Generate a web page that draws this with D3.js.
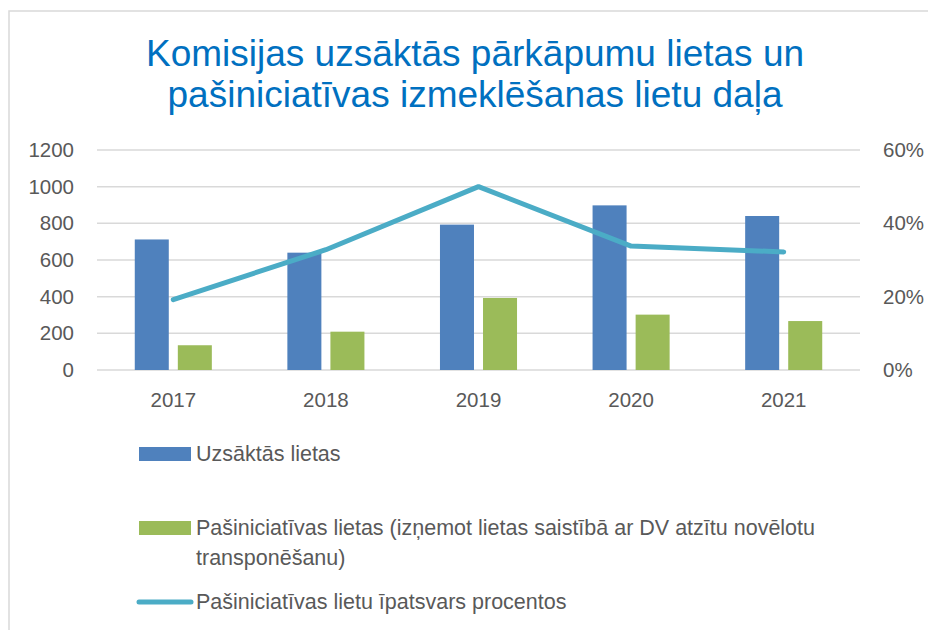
<!DOCTYPE html>
<html>
<head>
<meta charset="utf-8">
<script src="https://cdnjs.cloudflare.com/ajax/libs/d3/7.8.5/d3.min.js"></script>
<style>
  body { margin: 0; background: #fff; }
  text { font-family: "Liberation Sans", Arial, sans-serif; }
</style>
</head>
<body>
<svg id="chart" width="928" height="630"></svg>
<script>
var years = ["2017", "2018", "2019", "2020", "2021"];
var started = [712, 640, 793, 898, 840];
var ownInitiative = [135, 209, 393, 302, 267];
var sharePct = [19.2, 32.8, 50.0, 33.8, 32.2];
var leftTicks = [0, 200, 400, 600, 800, 1000, 1200];
var rightTicks = [0, 20, 40, 60];
var titleLines = ["Komisijas uzsāktās pārkāpumu lietas un", "pašiniciatīvas izmeklēšanas lietu daļa"];

var blue = "#4f81bd", green = "#9bbb59", teal = "#4bacc6", grey = "#595959";

var svg = d3.select("#chart");
var margin = {top: 150, left: 97, right: 68, bottom: 260};
var width = 928 - margin.left - margin.right,
    height = 630 - margin.top - margin.bottom;

// outer frame (only top and left edge visible)
svg.append("rect")
    .attr("x", 9).attr("y", 11)
    .attr("width", 940).attr("height", 640)
    .attr("fill", "none").attr("stroke", "#d9d9d9").attr("stroke-width", 1.5);

// title
svg.append("text")
    .attr("x", 475).attr("y", 66)
    .attr("text-anchor", "middle")
    .attr("fill", "#0070c0")
    .style("font-size", "37px")
    .selectAll("tspan")
    .data(titleLines)
    .enter().append("tspan")
    .attr("x", 475)
    .attr("dy", function(d, i) { return i == 0 ? 0 : 41; })
    .text(function(d) { return d; });

var g = svg.append("g").attr("transform", "translate(" + margin.left + "," + margin.top + ")");

var x0 = d3.scaleBand().domain(years).range([0, width]).paddingInner(0.495).paddingOuter(0.2475);
var x1 = d3.scaleBand().domain(["a", "b"]).range([0, x0.bandwidth()]).paddingInner(0.21);
var y = d3.scaleLinear().domain([0, 1200]).range([height, 0]);
var y2 = d3.scaleLinear().domain([0, 60]).range([height, 0]);

// gridlines
g.selectAll(".grid")
    .data(leftTicks)
    .enter().append("line")
    .attr("x1", 0).attr("x2", width)
    .attr("y1", function(d) { return y(d); })
    .attr("y2", function(d) { return y(d); })
    .attr("stroke", "#d9d9d9").attr("stroke-width", 1.5);

// left axis
var yAxis = g.append("g").call(d3.axisLeft(y).tickValues(leftTicks).tickFormat(d3.format("d")).tickSize(0).tickPadding(23));
yAxis.select(".domain").remove();
yAxis.selectAll("text").attr("fill", grey).style("font-size", "20.5px").style("font-family", "Liberation Sans, Arial, sans-serif");

// right axis
var y2Axis = g.append("g").attr("transform", "translate(" + width + ",0)")
    .call(d3.axisRight(y2).tickValues(rightTicks).tickFormat(function(d) { return d + "%"; }).tickSize(0).tickPadding(23));
y2Axis.select(".domain").remove();
y2Axis.selectAll("text").attr("fill", grey).style("font-size", "20.5px").style("font-family", "Liberation Sans, Arial, sans-serif");

// x axis
var xAxis = g.append("g").attr("transform", "translate(0," + height + ")")
    .call(d3.axisBottom(x0).tickSize(0).tickPadding(22));
xAxis.select(".domain").remove();
xAxis.selectAll("text").attr("fill", grey).style("font-size", "20.5px").style("font-family", "Liberation Sans, Arial, sans-serif");

// bars
g.selectAll(".bar-a")
    .data(started)
    .enter().append("rect")
    .attr("x", function(d, i) { return x0(years[i]) + x1("a"); })
    .attr("y", function(d) { return y(d); })
    .attr("width", x1.bandwidth())
    .attr("height", function(d) { return height - y(d); })
    .attr("fill", blue);

g.selectAll(".bar-b")
    .data(ownInitiative)
    .enter().append("rect")
    .attr("x", function(d, i) { return x0(years[i]) + x1("b"); })
    .attr("y", function(d) { return y(d); })
    .attr("width", x1.bandwidth())
    .attr("height", function(d) { return height - y(d); })
    .attr("fill", green);

// share line
var line = d3.line()
    .x(function(d, i) { return x0(years[i]) + x0.bandwidth() / 2; })
    .y(function(d) { return y2(d); });

g.append("path")
    .datum(sharePct)
    .attr("d", line)
    .attr("fill", "none")
    .attr("stroke", teal)
    .attr("stroke-width", 5)
    .attr("stroke-linecap", "round")
    .attr("stroke-linejoin", "round");

// legend
var legend = svg.append("g").style("font-size", "21.5px");

legend.append("rect").attr("x", 139).attr("y", 447).attr("width", 52).attr("height", 14).attr("fill", blue);
legend.append("text").attr("x", 196).attr("y", 461).attr("fill", grey).text("Uzsāktās lietas");

legend.append("rect").attr("x", 139).attr("y", 521).attr("width", 52).attr("height", 14).attr("fill", green);
legend.append("text").attr("x", 196).attr("y", 535).attr("fill", grey)
    .text("Pašiniciatīvas lietas (izņemot lietas saistībā ar DV atzītu novēlotu");
legend.append("text").attr("x", 196).attr("y", 565).attr("fill", grey).text("transponēšanu)");

legend.append("line").attr("x1", 139).attr("x2", 191).attr("y1", 602).attr("y2", 602)
    .attr("stroke", teal).attr("stroke-width", 5).attr("stroke-linecap", "round");
legend.append("text").attr("x", 196).attr("y", 609).attr("fill", grey).text("Pašiniciatīvas lietu īpatsvars procentos");
</script>
</body>
</html>
